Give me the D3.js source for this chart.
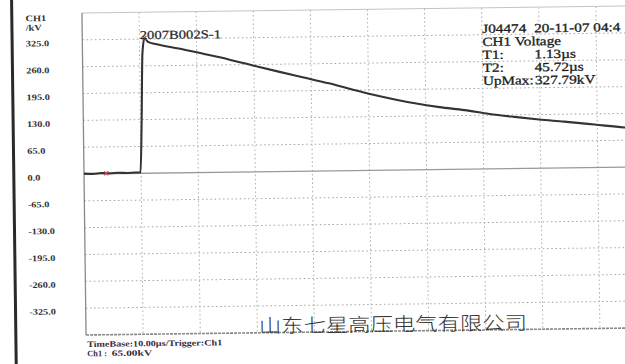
<!DOCTYPE html>
<html>
<head>
<meta charset="utf-8">
<script src="https://cdn.jsdelivr.net/npm/d3@7"></script>
<style>
  html, body { margin: 0; padding: 0; background: #fff; }
  svg { display: block; }
</style>
</head>
<body>
<svg id="chart" width="625" height="364"></svg>
<script>
// Impulse voltage record, channel 1 (time in µs, voltage in kV)
const timeUs = [0, 1.5, 3, 4.5, 6, 7.5, 9, 9.9, 10.2, 10.5, 10.9, 11.5, 13, 16.9, 21.3, 25.6, 30, 34.3, 38.7, 43.1, 49.7, 54, 58.1, 62.4, 66.8, 71.1, 75.5, 79.8, 84.2, 89.5, 94.7, 100];
const voltageKv = [1, 0, 2, 1, 2, 1, 2, 2, 120, 290, 327.79, 318, 312, 301, 287, 273, 257, 242, 227, 212, 187, 173, 161, 151, 143, 133, 125, 118, 112, 104, 96, 90];

// Axis tick labels (kV) and time divisions (µs)
const yTickValues = [325, 260, 195, 130, 65, 0, -65, -130, -195, -260, -325];
const timeDivisions = [10, 20, 30, 40, 50, 60, 70, 80, 90, 100];

// Marker positions: trigger point and crest
const triggerMark = { t: 3.9, v: 1 };
const crestMark = { t: 10.9, v: 327.79 };

// Annotation text
const waveName = "2007B002S-1";
const infoLines = [
  ["J04474", "20-11-07 04:4"],
  ["CH1 Voltage", ""],
  ["T1:", "1.13µs"],
  ["T2:", "45.72µs"],
  ["UpMax:", "327.79kV"]
];
const timeBaseText = "TimeBase:10.00µs/Trigger:Ch1";
const channelLabel = "Ch1 :";
const channelScale = "65.00kV";
const companyName = "山东七星高压电气有限公司";
const unitLines = ["CH1", "/kV"];

const svg = d3.select("#chart");
const serif = "'Liberation Serif', 'DejaVu Serif', serif";
const SX = 1.22; // horizontal stretch of the printed lettering

// The printout sits slightly tilted on the page
const root = svg.append("g").attr("transform", "rotate(-0.73, 84, 174)");

const plot = { left: 84, right: 655, top: 13, bottom: 335 };
const x = d3.scaleLinear().domain([0, 100]).range([plot.left, plot.right]);
const y = d3.scaleLinear().domain([-390, 390]).range([plot.bottom, plot.top]);

// Page edge bar on the far left
root.append("rect")
  .attr("x", 12.3).attr("y", -30).attr("width", 3).attr("height", 430)
  .attr("fill", "#2a2a2a");

function addText(g, tx, ty, str, o) {
  const t = g.append("text")
    .attr("transform", `translate(${tx},${ty}) scale(${o.sx || SX},1)`)
    .attr("font-family", o.family || serif)
    .attr("font-size", o.size)
    .attr("font-weight", o.weight || "normal")
    .attr("fill", o.fill || "#222")
    .text(str);
  if (o.stroke) t.attr("stroke", o.fill || "#222").attr("stroke-width", o.stroke);
  return t;
}

// Grid: dotted horizontals at the labelled voltages, dotted verticals per division
const grid = root.append("g");
grid.selectAll("line.h")
  .data(yTickValues.filter(v => v !== 0))
  .join("line")
  .attr("x1", plot.left).attr("x2", plot.right)
  .attr("y1", d => y(d)).attr("y2", d => y(d))
  .attr("stroke", "#a8a8a8").attr("stroke-width", 1)
  .attr("stroke-dasharray", "1.6,2.6");
grid.selectAll("line.v")
  .data(timeDivisions)
  .join("line")
  .attr("x1", d => x(d)).attr("x2", d => x(d))
  .attr("y1", plot.top).attr("y2", plot.bottom)
  .attr("stroke", "#b0b0b0").attr("stroke-width", 1)
  .attr("stroke-dasharray", "1.6,2.6");

// Zero line
grid.append("line")
  .attr("x1", plot.left).attr("x2", plot.right)
  .attr("y1", y(0)).attr("y2", y(0))
  .attr("stroke", "#999").attr("stroke-width", 1.3);

// Frame
grid.append("line")
  .attr("x1", plot.left).attr("x2", plot.right)
  .attr("y1", plot.top).attr("y2", plot.top)
  .attr("stroke", "#c4c4c4").attr("stroke-width", 1);
grid.append("line")
  .attr("x1", plot.left).attr("x2", plot.left)
  .attr("y1", plot.top).attr("y2", plot.bottom)
  .attr("stroke", "#8a8a8a").attr("stroke-width", 1.3);
grid.append("line")
  .attr("x1", plot.left).attr("x2", plot.right)
  .attr("y1", plot.bottom).attr("y2", plot.bottom)
  .attr("stroke", "#888").attr("stroke-width", 1.6)
  .attr("stroke-dasharray", "3,1");

// Y axis labels
const yLab = root.append("g");
yTickValues.forEach(v => {
  addText(yLab, 27.5, y(v) + 6, v.toFixed(1), { size: 8.5, weight: "bold", fill: "#333" });
});
unitLines.forEach((s, i) => {
  addText(yLab, 27.5, 20.5 + i * 9.5, s, { size: 8.5, weight: "bold", fill: "#333" });
});

// Waveform
const pts = timeUs.map((t, i) => [t, voltageKv[i]]);
const line = d3.line().x(d => x(d[0])).y(d => y(d[1])).curve(d3.curveMonotoneX);
root.append("path")
  .datum(pts)
  .attr("d", line)
  .attr("fill", "none")
  .attr("stroke", "#333")
  .attr("stroke-width", 2.1)
  .attr("stroke-linejoin", "round");

// Red cross markers
[triggerMark, crestMark].forEach(m => {
  const cx = x(m.t), cy = y(m.v);
  root.append("path")
    .attr("d", `M${cx - 2},${cy - 2}L${cx + 2},${cy + 2}M${cx - 2},${cy + 2}L${cx + 2},${cy - 2}`)
    .attr("stroke", "#d8484e").attr("stroke-width", 1.2);
});

// Wave name at the crest
addText(root, 141.5, 39.8, waveName, { size: 12, fill: "#2a2a2a", stroke: 0.25 });

// Measurement block
const info = root.append("g");
infoLines.forEach((row, i) => {
  const by = 38 + i * 13;
  addText(info, 484, by, row[0], { size: 12.5, fill: "#1a1a1a", stroke: 0.3 });
  if (row[1]) addText(info, 536, by, row[1], { size: 12.5, fill: "#1a1a1a", stroke: 0.3 });
});

// Footer
const foot = root.append("g");
const footStyle = { size: 8.3, weight: "bold", fill: "#3a2b3a" };
addText(foot, 85, 347, timeBaseText, footStyle);
addText(foot, 85, 356.4, channelLabel, Object.assign({}, footStyle, { sx: 1.0 }));
addText(foot, 109.5, 356.4, channelScale, Object.assign({}, footStyle, { sx: 1.38 }));

// Company name
root.append("text")
  .attr("x", 257).attr("y", 335)
  .attr("textLength", 268)
  .attr("lengthAdjust", "spacingAndGlyphs")
  .attr("font-family", "'Noto Sans CJK SC', sans-serif")
  .attr("font-size", 19)
  .attr("font-weight", 300)
  .attr("fill", "#333")
  .text(companyName);
</script>
</body>
</html>
